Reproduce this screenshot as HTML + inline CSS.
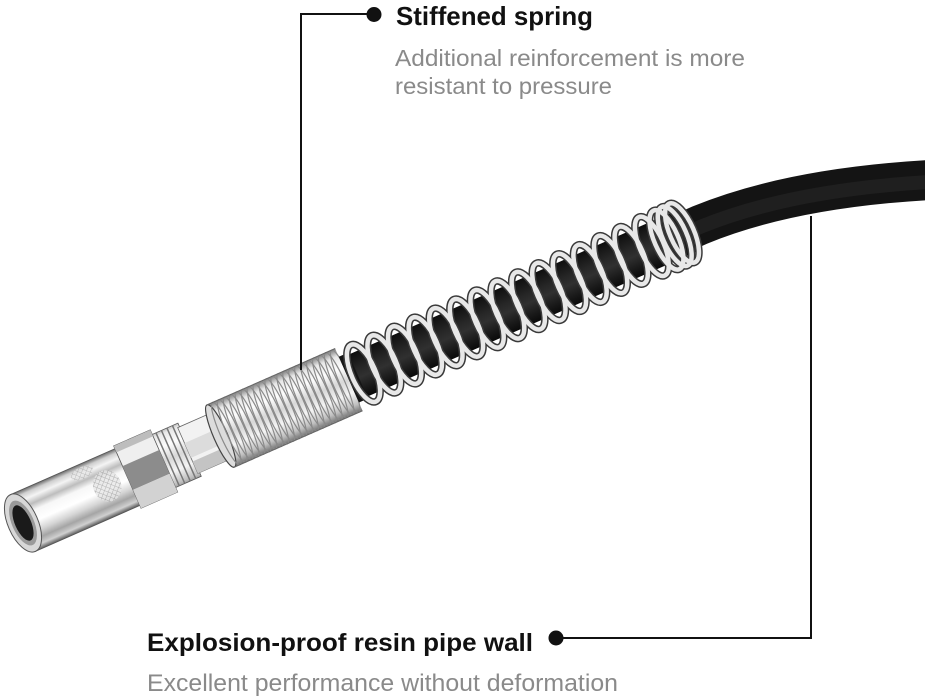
<!DOCTYPE html>
<html><head><meta charset="utf-8"><style>
html,body{margin:0;padding:0;background:#fff;}
svg{display:block;}
</style></head><body>
<svg width="925" height="700" viewBox="0 0 925 700" xmlns="http://www.w3.org/2000/svg">
<defs>
<linearGradient id="noz" gradientUnits="userSpaceOnUse" x1="0" y1="-31" x2="0" y2="31">
<stop offset="0" stop-color="#6a6a6a"/><stop offset="0.07" stop-color="#cfcfcf"/><stop offset="0.16" stop-color="#f4f4f4"/><stop offset="0.27" stop-color="#bdbdbd"/><stop offset="0.38" stop-color="#f7f7f7"/><stop offset="0.55" stop-color="#ffffff"/><stop offset="0.7" stop-color="#d5d5d5"/><stop offset="0.82" stop-color="#a5a5a5"/><stop offset="0.92" stop-color="#d0d0d0"/><stop offset="1" stop-color="#5a5a5a"/>
</linearGradient>
<linearGradient id="met" gradientUnits="userSpaceOnUse" x1="0" y1="-34" x2="0" y2="34">
<stop offset="0" stop-color="#808080"/><stop offset="0.12" stop-color="#e8e8e8"/><stop offset="0.3" stop-color="#fcfcfc"/><stop offset="0.5" stop-color="#d8d8d8"/><stop offset="0.7" stop-color="#f4f4f4"/><stop offset="0.88" stop-color="#c0c0c0"/><stop offset="1" stop-color="#707070"/>
</linearGradient>
<linearGradient id="hose" gradientUnits="userSpaceOnUse" x1="0" y1="-23" x2="0" y2="23">
<stop offset="0" stop-color="#0e0e0e"/><stop offset="0.35" stop-color="#262626"/><stop offset="0.55" stop-color="#303030"/><stop offset="0.8" stop-color="#1a1a1a"/><stop offset="1" stop-color="#0a0a0a"/>
</linearGradient>
<pattern id="knurl" width="4" height="4" patternUnits="userSpaceOnUse" patternTransform="rotate(45)">
<rect width="4" height="4" fill="#e6e6e6"/><path d="M0 0H4M0 0V4" stroke="#9a9a9a" stroke-width="1"/>
</pattern>
</defs>

<!-- hose beyond spring -->
<path d="M664 241 L700 225 Q790 188 930 180" fill="none" stroke="#141414" stroke-width="40"/>
<path d="M664 243 L700 227 Q790 190 930 182" fill="none" stroke="#242424" stroke-width="14" opacity="0.7"/>

<g transform="translate(23,523) rotate(-23.75)">
  <!-- nozzle body -->
  <rect x="0" y="-31" width="118" height="62" fill="url(#noz)" stroke="#555" stroke-width="0.8"/>
  <ellipse cx="92" cy="0" rx="14" ry="16" fill="url(#knurl)" opacity="0.75"/>
  <ellipse cx="74" cy="-22" rx="12" ry="6" fill="url(#knurl)" opacity="0.6"/>
  <!-- collar behind hex -->
  <rect x="150" y="-29" width="32" height="58" fill="url(#met)" stroke="#555" stroke-width="0.8"/>
  <path d="M158 -29V29M164 -29V29M170 -29V29M176 -29V29" stroke="#777" stroke-width="1.5"/>
  <!-- big hex -->
  <rect x="114" y="-34" width="40" height="68" fill="#efefef" stroke="#555" stroke-width="0.8"/>
  <rect x="114" y="-12" width="40" height="26" fill="#8c8c8c"/>
  <rect x="114" y="14" width="40" height="20" fill="#d2d2d2"/>
  <rect x="114" y="-34" width="40" height="7" fill="#bdbdbd"/>
  <!-- small hex -->
  <rect x="180" y="-25" width="36" height="50" fill="#f2f2f2" stroke="#666" stroke-width="0.8"/>
  <rect x="180" y="-8" width="36" height="16" fill="#dcdcdc"/>
  <rect x="180" y="12" width="36" height="13" fill="#c4c4c4"/>
  <rect x="212" y="-26" width="8" height="52" fill="#2a2a2a"/>
  <!-- nozzle face -->
  <ellipse cx="0" cy="0" rx="15" ry="31" fill="#d8d8d8" stroke="#555" stroke-width="1"/>
  <ellipse cx="0" cy="0" rx="11" ry="24" fill="#9a9a9a"/>
  <ellipse cx="0" cy="0" rx="8" ry="19" fill="#1a1a1a"/>

  <!-- black hose inside open spring -->
  <rect x="350" y="-23" width="380" height="46" fill="url(#hose)"/>

  <!-- dense spring -->
  <rect x="216" y="-34" width="140" height="68" fill="url(#met)"/>
  <ellipse cx="216" cy="0" rx="7" ry="34" fill="#dcdcdc" stroke="#444" stroke-width="1.2"/>
  <g fill="none" stroke="#8a8a8a" stroke-width="1.2">
    <ellipse cx="222" cy="0" rx="6" ry="34"/><ellipse cx="228.5" cy="0" rx="6" ry="34"/><ellipse cx="235" cy="0" rx="6" ry="34"/><ellipse cx="241.5" cy="0" rx="6" ry="34"/><ellipse cx="248" cy="0" rx="6" ry="34"/><ellipse cx="254.5" cy="0" rx="6" ry="34"/><ellipse cx="261" cy="0" rx="6" ry="34"/><ellipse cx="267.5" cy="0" rx="6" ry="34"/><ellipse cx="274" cy="0" rx="6" ry="34"/><ellipse cx="280.5" cy="0" rx="6" ry="34"/><ellipse cx="287" cy="0" rx="6" ry="34"/><ellipse cx="293.5" cy="0" rx="6" ry="34"/><ellipse cx="300" cy="0" rx="6" ry="34"/><ellipse cx="306.5" cy="0" rx="6" ry="34"/><ellipse cx="313" cy="0" rx="6" ry="34"/><ellipse cx="319.5" cy="0" rx="6" ry="34"/><ellipse cx="326" cy="0" rx="6" ry="34"/><ellipse cx="332.5" cy="0" rx="6" ry="34"/><ellipse cx="339" cy="0" rx="6" ry="34"/><ellipse cx="345.5" cy="0" rx="6" ry="34"/><ellipse cx="352" cy="0" rx="6" ry="34"/>
  </g>
  <path d="M216 -34H356M216 34H356" stroke="#666" stroke-width="1"/>
  <rect x="356" y="-25" width="10" height="50" fill="#151515"/>

  <!-- open spring coils -->
  <g fill="none">
    <g stroke="#3a3a3a" stroke-width="7.5">
      <ellipse cx="372" cy="0" rx="12" ry="31"/><ellipse cx="394.5" cy="0" rx="12" ry="31"/><ellipse cx="417" cy="0" rx="12" ry="31"/><ellipse cx="439.5" cy="0" rx="12" ry="31"/><ellipse cx="462" cy="0" rx="12" ry="31"/><ellipse cx="484.5" cy="0" rx="12" ry="31"/><ellipse cx="507" cy="0" rx="12" ry="31"/><ellipse cx="529.5" cy="0" rx="12" ry="31"/><ellipse cx="552" cy="0" rx="12" ry="31"/><ellipse cx="574.5" cy="0" rx="12" ry="31"/><ellipse cx="597" cy="0" rx="12" ry="31"/><ellipse cx="619.5" cy="0" rx="12" ry="31"/><ellipse cx="642" cy="0" rx="12" ry="31"/><ellipse cx="664.5" cy="0" rx="12" ry="31"/><ellipse cx="687" cy="0" rx="12" ry="32"/><ellipse cx="703" cy="0" rx="12" ry="32"/><ellipse cx="712" cy="0" rx="12" ry="32"/><ellipse cx="720" cy="0" rx="12" ry="32"/>
    </g>
    <g stroke="#e8e8e8" stroke-width="4.5">
      <ellipse cx="372" cy="0" rx="12" ry="31"/><ellipse cx="394.5" cy="0" rx="12" ry="31"/><ellipse cx="417" cy="0" rx="12" ry="31"/><ellipse cx="439.5" cy="0" rx="12" ry="31"/><ellipse cx="462" cy="0" rx="12" ry="31"/><ellipse cx="484.5" cy="0" rx="12" ry="31"/><ellipse cx="507" cy="0" rx="12" ry="31"/><ellipse cx="529.5" cy="0" rx="12" ry="31"/><ellipse cx="552" cy="0" rx="12" ry="31"/><ellipse cx="574.5" cy="0" rx="12" ry="31"/><ellipse cx="597" cy="0" rx="12" ry="31"/><ellipse cx="619.5" cy="0" rx="12" ry="31"/><ellipse cx="642" cy="0" rx="12" ry="31"/><ellipse cx="664.5" cy="0" rx="12" ry="31"/><ellipse cx="687" cy="0" rx="12" ry="32"/><ellipse cx="703" cy="0" rx="12" ry="32"/><ellipse cx="712" cy="0" rx="12" ry="32"/><ellipse cx="720" cy="0" rx="12" ry="32"/>
    </g>
  </g>
</g>

<!-- leaders -->
<path d="M301 370V14H374" fill="none" stroke="#111" stroke-width="2"/>
<circle cx="374" cy="14.5" r="7.5" fill="#111"/>
<path d="M811 216V638H556" fill="none" stroke="#111" stroke-width="2"/>
<circle cx="556" cy="638" r="7.5" fill="#111"/>

<!-- text -->
<g font-family="'Liberation Sans', 'Noto Sans CJK SC', sans-serif">
  <text x="396" y="25" font-size="26" font-weight="bold" fill="#111" textLength="197" lengthAdjust="spacingAndGlyphs">Stiffened spring</text>
  <text x="395" y="66" font-size="23" fill="#8a8a8a" textLength="350" lengthAdjust="spacingAndGlyphs">Additional reinforcement is more</text>
  <text x="395" y="94" font-size="23" fill="#8a8a8a" textLength="217" lengthAdjust="spacingAndGlyphs">resistant to pressure</text>
  <text x="147" y="651" font-size="25" font-weight="bold" fill="#111" textLength="386" lengthAdjust="spacingAndGlyphs">Explosion-proof resin pipe wall</text>
  <text x="147" y="691" font-size="24" fill="#8a8a8a" textLength="471" lengthAdjust="spacingAndGlyphs">Excellent performance without deformation</text>
</g>
</svg>
</body></html>
